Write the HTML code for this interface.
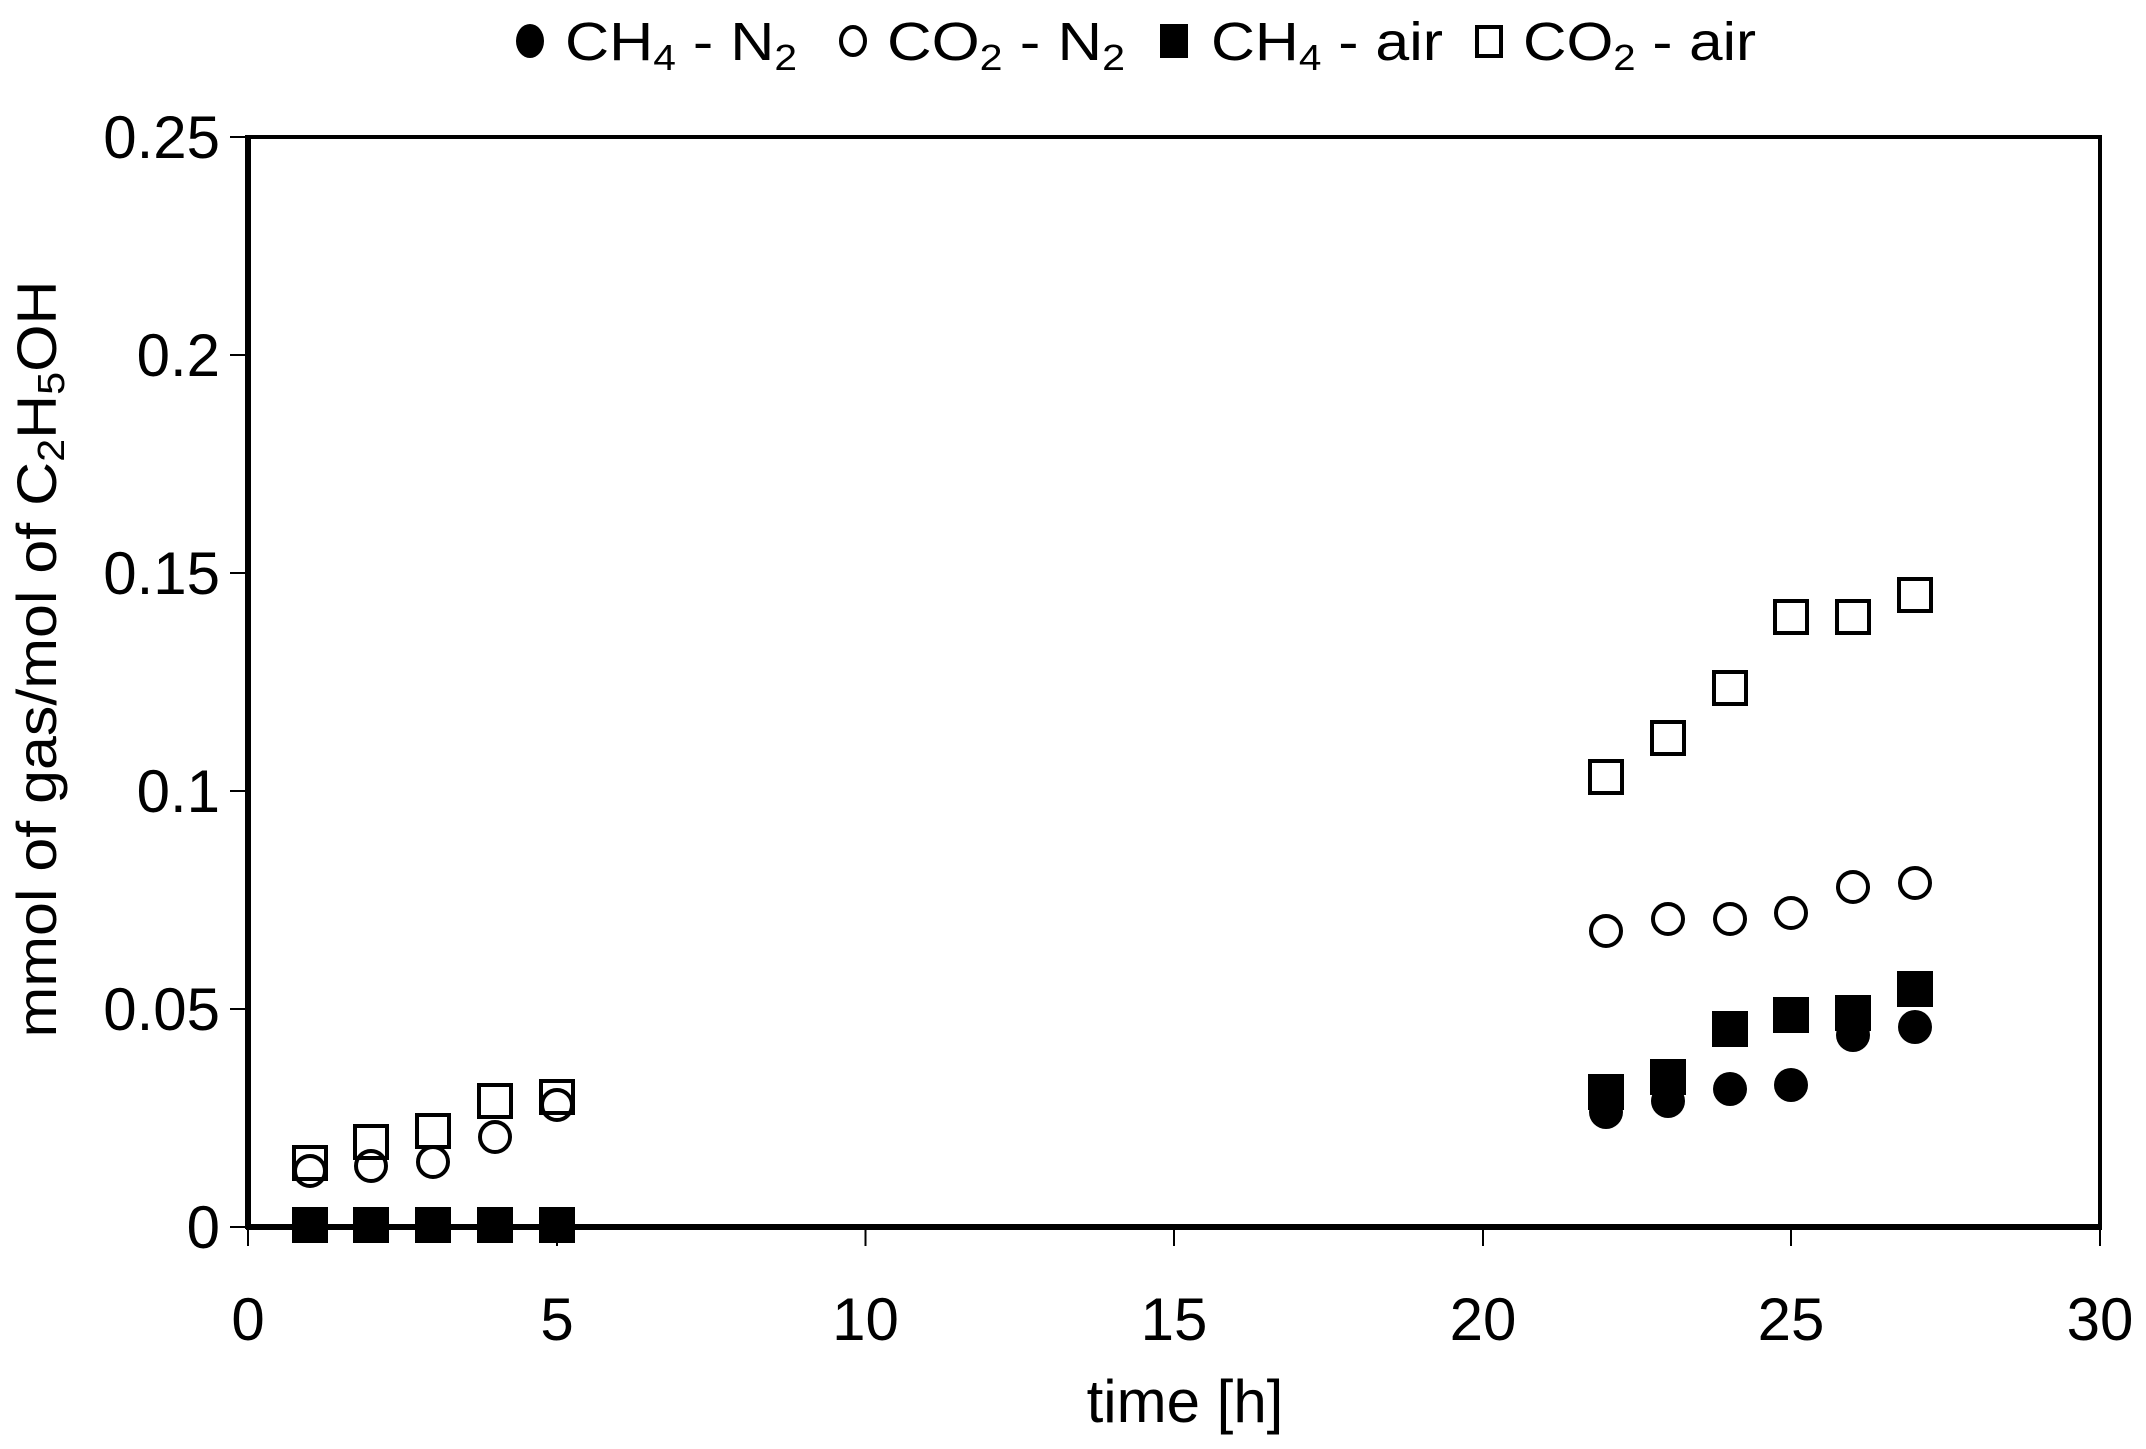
<!DOCTYPE html>
<html><head><meta charset="utf-8"><style>
html,body{margin:0;padding:0;background:#fff}
svg{display:block}
text{font-family:"Liberation Sans",Arial,sans-serif;fill:#000}
</style></head><body>
<svg width="2146" height="1449" viewBox="0 0 2146 1449" xmlns="http://www.w3.org/2000/svg">
<!-- legend -->
<g font-size="54">
<ellipse cx="530" cy="41" rx="14" ry="17" fill="#000"/>
<text x="565" y="60" textLength="232" lengthAdjust="spacingAndGlyphs">CH<tspan font-size="36" dy="10">4</tspan><tspan dy="-10"> - N</tspan><tspan font-size="36" dy="10">2</tspan></text>
<ellipse cx="853" cy="41" rx="12" ry="14" fill="none" stroke="#000" stroke-width="4"/>
<text x="887" y="60" textLength="238" lengthAdjust="spacingAndGlyphs">CO<tspan font-size="36" dy="10">2</tspan><tspan dy="-10"> - N</tspan><tspan font-size="36" dy="10">2</tspan></text>
<rect x="1160" y="24" width="28" height="34" fill="#000"/>
<text x="1211" y="60" textLength="232" lengthAdjust="spacingAndGlyphs">CH<tspan font-size="36" dy="10">4</tspan><tspan dy="-10"> - air</tspan></text>
<rect x="1477" y="27" width="24" height="29" fill="none" stroke="#000" stroke-width="4"/>
<text x="1523" y="60" textLength="233" lengthAdjust="spacingAndGlyphs">CO<tspan font-size="36" dy="10">2</tspan><tspan dy="-10"> - air</tspan></text>
</g>
<!-- axes -->
<rect x="248" y="137" width="1852" height="1090" fill="none" stroke="#000" stroke-width="4"/>
<line x1="248" y1="135" x2="248" y2="1229" stroke="#000" stroke-width="6"/>
<line x1="246" y1="1227" x2="2102" y2="1227" stroke="#000" stroke-width="6"/>
<g stroke="#000" stroke-width="2">
<line x1="230" y1="137" x2="248" y2="137"/>
<line x1="230" y1="355" x2="248" y2="355"/>
<line x1="230" y1="573" x2="248" y2="573"/>
<line x1="230" y1="791" x2="248" y2="791"/>
<line x1="230" y1="1009" x2="248" y2="1009"/>
<line x1="230" y1="1227" x2="248" y2="1227"/>
<line x1="248" y1="1227" x2="248" y2="1246"/>
<line x1="557" y1="1227" x2="557" y2="1246"/>
<line x1="865.5" y1="1227" x2="865.5" y2="1246"/>
<line x1="1174" y1="1227" x2="1174" y2="1246"/>
<line x1="1483" y1="1227" x2="1483" y2="1246"/>
<line x1="1791" y1="1227" x2="1791" y2="1246"/>
<line x1="2100" y1="1227" x2="2100" y2="1246"/>
</g>
<g font-size="60" text-anchor="end">
<text x="220" y="158">0.25</text>
<text x="220" y="376">0.2</text>
<text x="220" y="594">0.15</text>
<text x="220" y="812">0.1</text>
<text x="220" y="1030">0.05</text>
<text x="220" y="1248">0</text>
</g>
<g font-size="60" text-anchor="middle">
<text x="248" y="1340">0</text>
<text x="557" y="1340">5</text>
<text x="865.5" y="1340">10</text>
<text x="1174" y="1340">15</text>
<text x="1483" y="1340">20</text>
<text x="1791" y="1340">25</text>
<text x="2100" y="1340">30</text>
<text x="1185" y="1422">time [h]</text>
</g>
<text font-size="56" transform="translate(56,659) rotate(-90)" text-anchor="middle" textLength="757" lengthAdjust="spacingAndGlyphs">mmol of gas/mol of C<tspan font-size="38" dy="8">2</tspan><tspan dy="-8">H</tspan><tspan font-size="38" dy="8">5</tspan><tspan dy="-8">OH</tspan></text>
<!-- data: x=248+61.73*t, y=1227-4360*v -->
<g fill="#000">
<circle cx="1606" cy="1112" r="17"/>
<circle cx="1668" cy="1101" r="17"/>
<circle cx="1730" cy="1089" r="17"/>
<circle cx="1791" cy="1085" r="17"/>
<circle cx="1853" cy="1035" r="17"/>
<circle cx="1915" cy="1027" r="17"/>
</g>
<g fill="none" stroke="#000" stroke-width="4">
<circle cx="310" cy="1171" r="15"/>
<circle cx="371" cy="1166" r="15"/>
<circle cx="433" cy="1162" r="15"/>
<circle cx="495" cy="1137" r="15"/>
<circle cx="557" cy="1105" r="15"/>
<circle cx="1606" cy="931" r="15"/>
<circle cx="1668" cy="919" r="15"/>
<circle cx="1730" cy="919" r="15"/>
<circle cx="1791" cy="913" r="15"/>
<circle cx="1853" cy="887" r="15"/>
<circle cx="1915" cy="883" r="15"/>
</g>
<g fill="#000">
<rect x="292" y="1207" width="36" height="36"/>
<rect x="353" y="1207" width="36" height="36"/>
<rect x="415" y="1207" width="36" height="36"/>
<rect x="477" y="1207" width="36" height="36"/>
<rect x="539" y="1207" width="36" height="36"/>
<rect x="1588" y="1074" width="36" height="36"/>
<rect x="1650" y="1059" width="36" height="36"/>
<rect x="1712" y="1011" width="36" height="36"/>
<rect x="1773" y="997" width="36" height="36"/>
<rect x="1835" y="995" width="36" height="36"/>
<rect x="1897" y="971" width="36" height="36"/>
</g>
<g fill="none" stroke="#000" stroke-width="4">
<rect x="294" y="1147" width="32" height="32"/>
<rect x="355" y="1126" width="32" height="32"/>
<rect x="417" y="1115" width="32" height="32"/>
<rect x="479" y="1085" width="32" height="32"/>
<rect x="541" y="1081" width="32" height="32"/>
<rect x="1590" y="761" width="32" height="32"/>
<rect x="1652" y="722" width="32" height="32"/>
<rect x="1714" y="672" width="32" height="32"/>
<rect x="1775" y="601" width="32" height="32"/>
<rect x="1837" y="601" width="32" height="32"/>
<rect x="1899" y="579" width="32" height="32"/>
</g>
</svg>
</body></html>
